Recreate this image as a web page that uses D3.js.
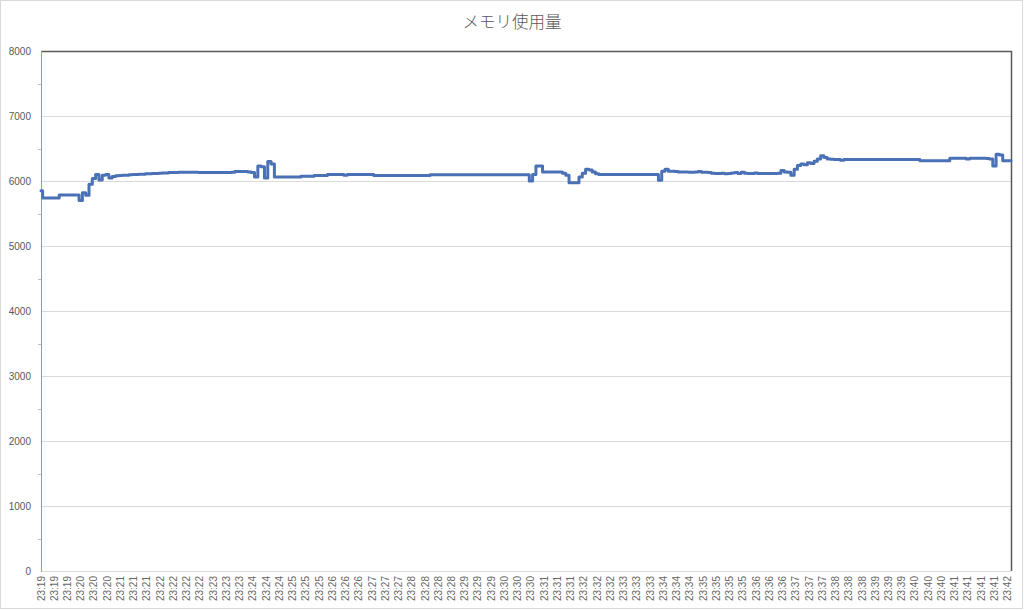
<!DOCTYPE html>
<html>
<head>
<meta charset="utf-8">
<script src="https://cdn.jsdelivr.net/npm/d3@7"></script>
<style>
  html, body { margin: 0; padding: 0; background: #fff; }
  svg { display: block; }
</style>
</head>
<body>
<svg id="chart" width="1024" height="610"></svg>
<script>
const title = "メモリ使用量";

const timeLabels = [
  "23:19","23:19","23:19","23:20","23:20","23:20","23:21","23:21","23:21",
  "23:22","23:22","23:22","23:22","23:23","23:23","23:23","23:24","23:24","23:24",
  "23:25","23:25","23:25","23:26","23:26","23:26","23:27","23:27","23:27",
  "23:28","23:28","23:28","23:28","23:29","23:29","23:29","23:30","23:30","23:30",
  "23:31","23:31","23:31","23:32","23:32","23:32","23:33","23:33","23:33",
  "23:34","23:34","23:34","23:35","23:35","23:35","23:35","23:36","23:36","23:36",
  "23:37","23:37","23:37","23:38","23:38","23:38","23:39","23:39","23:39",
  "23:40","23:40","23:40","23:41","23:41","23:41","23:41","23:42"
];

const yTicks = [0, 1000, 2000, 3000, 4000, 5000, 6000, 7000, 8000];

// memory usage samples (4 samples per label interval)
const memory = [
  5850,5740,5740,5740,5740,5740,5785,5785,5785,5785,
  5785,5785,5700,5820,5780,5950,6040,6100,6015,6090,
  6100,6045,6070,6080,6085,6090,6090,6095,6100,6100,
  6105,6105,6110,6110,6115,6115,6120,6125,6125,6130,
  6130,6130,6135,6135,6135,6135,6135,6135,6130,6130,
  6130,6130,6130,6130,6130,6130,6130,6130,6135,6145,
  6145,6145,6145,6140,6130,6060,6230,6220,6045,6300,
  6260,6060,6060,6060,6060,6060,6060,6060,6060,6075,
  6075,6075,6075,6085,6085,6085,6085,6100,6100,6100,
  6100,6100,6090,6100,6100,6100,6100,6100,6100,6100,
  6100,6085,6085,6085,6085,6085,6085,6085,6085,6085,
  6085,6085,6085,6085,6085,6085,6085,6085,6095,6095,
  6095,6095,6095,6095,6095,6095,6095,6095,6095,6095,
  6095,6095,6095,6095,6095,6095,6095,6095,6095,6095,
  6095,6095,6095,6095,6095,6095,6095,6095,6000,6100,
  6230,6230,6140,6140,6140,6140,6140,6140,6120,6090,
  5975,5975,5975,6060,6120,6180,6170,6140,6110,6100,
  6100,6100,6100,6100,6100,6100,6100,6100,6100,6100,
  6100,6100,6100,6100,6100,6100,6100,6010,6150,6180,
  6150,6150,6145,6140,6140,6140,6135,6135,6140,6145,
  6135,6135,6130,6120,6115,6115,6120,6110,6115,6125,
  6130,6115,6135,6120,6115,6115,6125,6115,6115,6115,
  6115,6115,6115,6120,6160,6140,6135,6090,6180,6240,
  6260,6250,6280,6270,6305,6340,6390,6360,6340,6335,
  6330,6330,6320,6330,6330,6330,6330,6330,6330,6330,
  6330,6330,6330,6330,6330,6330,6330,6330,6330,6330,
  6330,6330,6330,6330,6330,6330,6310,6310,6310,6310,
  6310,6310,6310,6310,6310,6350,6350,6350,6350,6350,
  6340,6350,6350,6350,6350,6350,6345,6340,6230,6410,
  6400,6310,6310,6310
];
const samplesPerLabel = 4;

const svg = d3.select("#chart");
const W = 1024, H = 610;
const m = { left: 41, right: 1011, top: 51, bottom: 571 };

// outer border
svg.append("rect")
  .attr("x", 0.5).attr("y", 0.5).attr("width", W - 2).attr("height", H - 2)
  .attr("fill", "#fff").attr("stroke", "#d9d9d9").attr("stroke-width", 1);

const x = d3.scaleLinear().domain([0, memory.length - 1]).range([m.left, m.right]);
const y = d3.scaleLinear().domain([0, 8000]).range([m.bottom, m.top]);

// gridlines
svg.append("g")
  .selectAll("line").data(yTicks.filter(d => d > 0 && d < 8000)).join("line")
  .attr("x1", m.left).attr("x2", m.right)
  .attr("y1", d => Math.round(y(d)) + 0.5).attr("y2", d => Math.round(y(d)) + 0.5)
  .attr("stroke", "#d9d9d9").attr("stroke-width", 1);

// bottom axis line
svg.append("line")
  .attr("x1", m.left).attr("x2", m.right)
  .attr("y1", m.bottom + 0.5).attr("y2", m.bottom + 0.5)
  .attr("stroke", "#d9d9d9").attr("stroke-width", 1);

// top and right border
svg.append("path")
  .attr("d", `M${m.left},${m.top + 0.5}H${m.right + 0.5}V${m.bottom}`)
  .attr("fill", "none").attr("stroke", "#595959").attr("stroke-width", 1.5);

// Y axis
const yAxis = d3.axisLeft(y).tickValues(yTicks).tickSize(0).tickPadding(10)
  .tickFormat(d3.format("d"));
const gy = svg.append("g").attr("transform", `translate(${m.left},0)`).call(yAxis);
gy.select(".domain").remove();
gy.selectAll("text")
  .attr("fill", "#595959")
  .style("font-family", "'Liberation Sans', Arial, sans-serif")
  .style("font-size", "10px");

// minor ticks
const minor = d3.range(500, 8000, 1000);
svg.append("g").selectAll("line").data(minor).join("line")
  .attr("x1", m.left - 3).attr("x2", m.left)
  .attr("y1", d => Math.round(y(d)) + 0.5).attr("y2", d => Math.round(y(d)) + 0.5)
  .attr("stroke", "#bfbfbf").attr("stroke-width", 1);

// green left axis line
svg.append("line")
  .attr("x1", m.left + 0.5).attr("x2", m.left + 0.5)
  .attr("y1", m.top).attr("y2", m.bottom + 1)
  .attr("stroke", "#7fb65a").attr("stroke-width", 1);

// X axis labels
const labelIdx = timeLabels.map((d, i) => i * samplesPerLabel);
const xAxis = d3.axisBottom(x).tickValues(labelIdx).tickSize(0).tickPadding(0)
  .tickFormat((d, i) => timeLabels[i]);
const gx = svg.append("g").attr("transform", `translate(0,${m.bottom})`).call(xAxis);
gx.select(".domain").remove();
gx.selectAll("text")
  .attr("fill", "#666666")
  .style("font-family", "'Liberation Sans', Arial, sans-serif")
  .style("font-size", "10px")
  .attr("text-anchor", "end")
  .attr("dy", null)
  .attr("transform", "translate(3,5) rotate(-90)")
  .attr("y", 0).attr("x", 0);

// line
const line = d3.line().x((d, i) => x(i)).y(d => y(d)).curve(d3.curveStep);
svg.append("path")
  .datum(memory)
  .attr("d", line)
  .attr("fill", "none")
  .attr("stroke", "#4a70b5")
  .attr("stroke-width", 3)
  .attr("stroke-linejoin", "round")
  .attr("stroke-linecap", "round");

// title
svg.append("text")
  .attr("x", 512).attr("y", 28)
  .attr("text-anchor", "middle")
  .attr("fill", "#595959")
  .style("font-family", "'Noto Sans CJK JP', sans-serif")
  .style("font-weight", 300)
  .style("font-size", "16.5px")
  .text(title);
</script>
</body>
</html>
